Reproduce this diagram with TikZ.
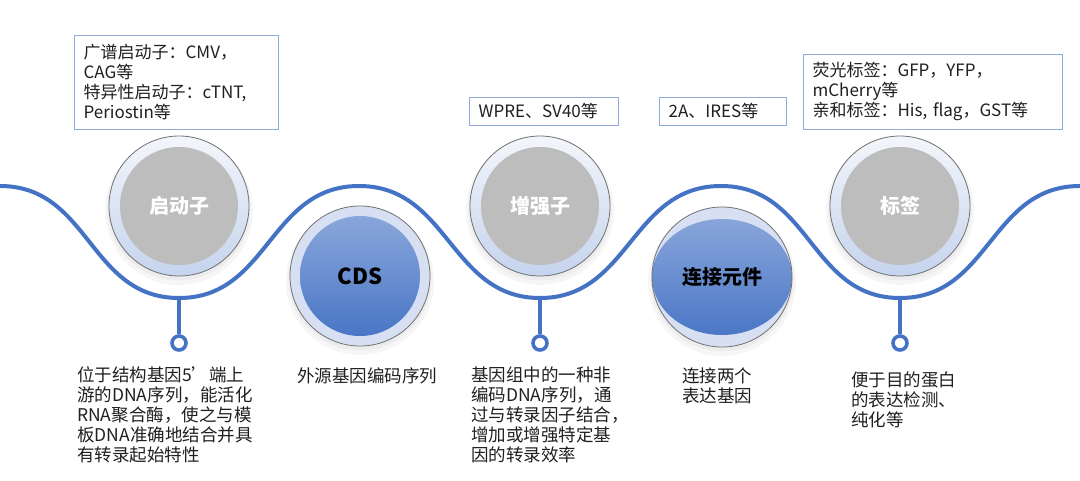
\documentclass[tikz,border=0pt]{standalone}
\usepackage{fontspec}
\setmainfont{Noto Sans CJK SC}
\usetikzlibrary{calc}
\definecolor{wblue}{HTML}{4472C4}
\definecolor{lblue}{HTML}{8FAADC}
\definecolor{boxblue}{HTML}{8FAADC}
\definecolor{ringtop}{HTML}{F3F6FB}
\definecolor{ringbot}{HTML}{C5D3ED}
\definecolor{ringblue}{HTML}{D6E0F2}
\definecolor{diskgray}{HTML}{BDBDBD}
\definecolor{ringgray}{HTML}{707070}
\definecolor{txtc}{HTML}{202020}
\tikzset{
  wave/.style={draw=wblue, line width=4pt},
  stem/.style={draw=wblue, line width=3.6pt},
  pin/.style={circle, draw=wblue, line width=3.6pt, fill=white, minimum size=14pt, inner sep=0pt},
  softshadow/.style={fill=black, opacity=0.035},
  outerg/.style={circle, minimum size=140pt, inner sep=0pt, draw=ringgray, line width=0.8pt,
    top color=ringtop, bottom color=ringbot, text=white,
    font=\bfseries\fontsize{20}{24}\selectfont,
    path picture={\fill[diskgray] (path picture bounding box.center) circle (59pt);}},
  outerb/.style={circle, minimum size=140pt, inner sep=0pt, draw=ringgray, line width=0.8pt,
    fill=ringblue, text=black,
    path picture={\shade[top color=lblue, bottom color=wblue] (path picture bounding box.center) circle (60pt);}},
  outerlink/.style={circle, minimum size=140pt, inner sep=0pt, draw=ringgray, line width=0.8pt,
    fill=ringblue, text=black, font=\bfseries\fontsize{20}{24}\selectfont,
    path picture={\shade[top color=lblue, bottom color=wblue] (path picture bounding box.center) ellipse (70pt and 58pt);}},
  infobox/.style={draw=boxblue, line width=1.2pt, align=left, anchor=north west,
    inner xsep=9pt, inner ysep=9pt, text=txtc, font=\fontsize{17}{20}\selectfont},
  desc/.style={anchor=north west, inner sep=0pt, align=left, text=txtc, font=\fontsize{17.5}{20}\selectfont},
}
\begin{document}
\begin{tikzpicture}[x=1pt,y=-1pt]
\useasboundingbox (0,0) rectangle (1080,480);
\fill[white] (0,0) rectangle (1080,480);
% wave
\coordinate (w0) at (0,186);
\coordinate (w1) at (179,298);
\coordinate (w2) at (359,186);
\coordinate (w3) at (540,298);
\coordinate (w4) at (721,186);
\coordinate (w5) at (900,298);
\coordinate (w6) at (1080,186);
\draw[wave] (w0) .. controls +(90,0) and +(-90,0) .. (w1)
  .. controls +(90,0) and +(-90,0) .. (w2)
  .. controls +(90,0) and +(-90,0) .. (w3)
  .. controls +(90,0) and +(-90,0) .. (w4)
  .. controls +(90,0) and +(-90,0) .. (w5)
  .. controls +(90,0) and +(-90,0) .. (w6);
% stems and pins
\node[pin] (p1) at (179,343) {};
\node[pin] (p2) at (540,343) {};
\node[pin] (p3) at (900,343) {};
\draw[stem] (w1) -- (p1.north);
\draw[stem] (w3) -- (p2.north);
\draw[stem] (w5) -- (p3.north);
% circle centres
\coordinate (c1) at (179,206);
\coordinate (c2) at (360,276);
\coordinate (c3) at (540,206);
\coordinate (c4) at (722,277);
\coordinate (c5) at (900,206);
\foreach \c in {c1,c2,c3,c4,c5}{
  \fill[softshadow] ($(\c)+(0,5)$) circle (74pt);
  \fill[softshadow] ($(\c)+(0,3)$) circle (71.5pt);
}
\node[outerg] (prom) at (c1) {启动子};
\node[outerb, font=\bfseries\fontsize{22}{26}\selectfont] (cds) at (c2) {CDS};
\node[outerg] (enh) at (c3) {增强子};
\node[outerlink] (link) at (c4) {连接元件};
\node[outerg] (tag) at (c5) {标签};
% top boxes
\node[infobox, text width=186pt] (b1) at (74,35)
  {广谱启动子：CMV，\\CAG等\\特异性启动子：cTNT,\\Periostin等};
\node[infobox, text width=131pt, inner ysep=6pt] (b2) at (469,97) {WPRE、SV40等};
\node[infobox, text width=109pt, inner ysep=6pt] (b3) at (659,97) {2A、IRES等};
\node[infobox, text width=241pt, inner ysep=8pt] (b4) at (803,54)
  {荧光标签：GFP，YFP，\\mCherry等\\亲和标签：His, flag，GST等};
% descriptions
\node[desc] (d1) at (77,366)
  {位于结构基因5’端上\\游的DNA序列，能活化\\RNA聚合酶，使之与模\\板DNA准确地结合并具\\有转录起始特性};
\node[desc] (d2) at (297,367) {外源基因编码序列};
\node[desc] (d3) at (471,367)
  {基因组中的一种非\\编码DNA序列，通\\过与转录因子结合，\\增加或增强特定基\\因的转录效率};
\node[desc] (d4) at (682,368) {连接两个\\表达基因};
\node[desc] (d5) at (851,372) {便于目的蛋白\\的表达检测、\\纯化等};
\end{tikzpicture}
\end{document}
